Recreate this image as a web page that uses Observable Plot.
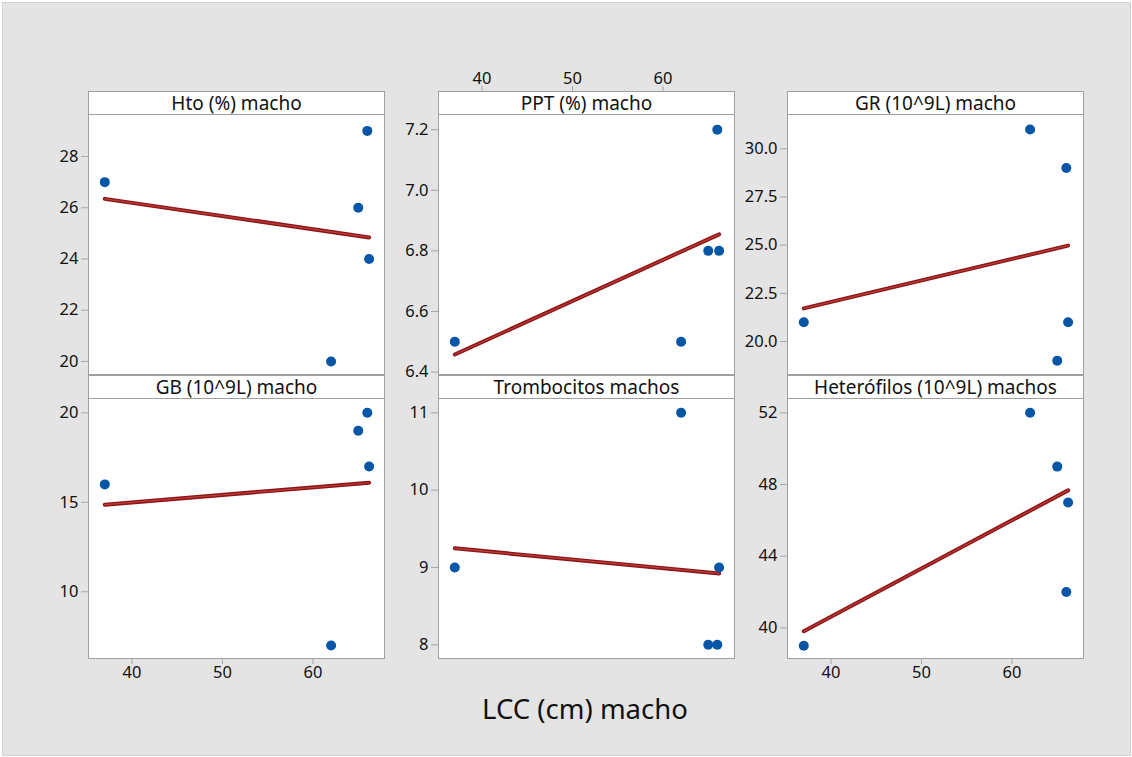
<!DOCTYPE html>
<html>
<head>
<meta charset="utf-8">
<script src="https://cdn.jsdelivr.net/npm/d3@7"></script>
<script src="https://cdn.jsdelivr.net/npm/@observablehq/plot@0.6"></script>
<style>
  html, body { margin: 0; padding: 0; background: #ffffff; }
  #stage { position: relative; width: 1132px; height: 757px; overflow: hidden; font-family: "Noto Sans", "Open Sans", sans-serif; }
  #bg { position: absolute; left: 2px; top: 2px; width: 1127px; height: 752px; background: #e4e4e4; border: 1px solid #d2d2d2; }
  .panel { position: absolute; }
  .panel svg [aria-label$="tick"] { stroke: #a6a6a6; }
  .panel svg [aria-label$="tick-label"] { fill: #111; }
  #xlabel { position: absolute; left: 0; width: 1170px; top: 690px; text-align: center; font-size: 27.5px; color: #111; }
</style>
</head>
<body>
<div id="stage"><div id="bg"></div><div id="xlabel">LCC (cm) macho</div></div>
<script>
// ---- data (one value per animal) ----
const lcc    = [37, 62, 65, 66, 66.2];
const hto    = [27, 20, 26, 29, 24];
const ppt    = [6.5, 6.5, 6.8, 7.2, 6.8];
const gr     = [21, 31, 19, 29, 21];
const gb     = [16, 7, 19, 20, 17];
const tromb  = [9, 11, 8, 8, 9];
const hetero = [39, 52, 49, 42, 47];

const titles = ["Hto (%) macho", "PPT (%) macho", "GR (10^9L) macho",
                "GB (10^9L) macho", "Trombocitos machos", "Heterófilos (10^9L) machos"];
const xTicks = [40, 50, 60];
const yTicksHto = [20, 22, 24, 26, 28];
const yTicksPpt = [6.4, 6.6, 6.8, 7.0, 7.2];
const yTicksGr = [20.0, 22.5, 25.0, 27.5, 30.0];
const yTicksGb = [10, 15, 20];
const yTicksTromb = [8, 9, 10, 11];
const yTicksHetero = [40, 44, 48, 52];

const xDomain = [35.2, 67.9];
const yDomains = [[19.49, 29.64], [6.392, 7.25], [18.29, 31.78], [6.27, 20.8], [7.823, 11.185], [38.29, 52.8]];

const panels = [
  {title: titles[0], values: hto,    ticks: yTicksHto,    fmt: d3.format("d"),   xAxis: null},
  {title: titles[1], values: ppt,    ticks: yTicksPpt,    fmt: d3.format(".1f"), xAxis: "top"},
  {title: titles[2], values: gr,     ticks: yTicksGr,     fmt: d3.format(".1f"), xAxis: null},
  {title: titles[3], values: gb,     ticks: yTicksGb,     fmt: d3.format("d"),   xAxis: "bottom"},
  {title: titles[4], values: tromb,  ticks: yTicksTromb,  fmt: d3.format("d"),   xAxis: null},
  {title: titles[5], values: hetero, ticks: yTicksHetero, fmt: d3.format("d"),   xAxis: "bottom"}
];

// ---- layout ----
const colLeft = [88, 438, 787];
const rowTop = [91, 375];
const frameW = 296, stripH = 23, plotH = 260;
const mL = 55, mR = 10, mT = 32, mB = 36;
const W = mL + frameW + mR, H = mT + stripH + plotH + mB;

const stage = document.getElementById("stage");
panels.forEach((p, i) => {
  const col = i % 3, row = Math.floor(i / 3);
  const data = lcc.map((x, k) => ({x, y: p.values[k]}));
  const yDom = yDomains[i];
  const marks = [
    Plot.frame({fill: "white", stroke: "#a0a0a0"}),
    Plot.ruleY([yDom[1]], {stroke: "#a0a0a0"}),
    Plot.text([p.title], {frameAnchor: "top", dy: stripH / 2 + 0.5, text: d => d, fontSize: 19, fill: "#111", lineAnchor: "middle"}),
    Plot.axisY({ticks: p.ticks, tickFormat: p.fmt, tickSize: 7, tickPadding: 3, label: null, fontSize: 16.5}),
    Plot.linearRegressionY(data, {x: "x", y: "y", ci: 0, stroke: "#8a1616", strokeWidth: 4}),
    Plot.linearRegressionY(data, {x: "x", y: "y", ci: 0, stroke: "#c03a3a", strokeWidth: 1.2}),
    Plot.dot(data, {x: "x", y: "y", r: 5, fill: "#0656a8", stroke: "none"})
  ];
  if (p.xAxis) marks.push(Plot.axisX({anchor: p.xAxis, ticks: xTicks, tickSize: 6, tickPadding: 2, label: null, fontSize: 16.5}));
  const chart = Plot.plot({
    width: W, height: H,
    marginLeft: mL, marginRight: mR, marginTop: mT, marginBottom: mB,
    style: {background: "transparent", overflow: "visible", fontFamily: "'Noto Sans', 'Open Sans', sans-serif", fontSize: "16px", color: "#111"},
    x: {domain: xDomain, ...(p.xAxis ? {} : {axis: null})},
    y: {domain: yDom, range: [H - mB, mT + stripH]},
    marks
  });
  const wrap = document.createElement("div");
  wrap.className = "panel";
  wrap.style.left = (colLeft[col] - mL) + "px";
  wrap.style.top = (rowTop[row] - mT) + "px";
  wrap.appendChild(chart);
  stage.appendChild(wrap);
});
</script>
</body>
</html>
